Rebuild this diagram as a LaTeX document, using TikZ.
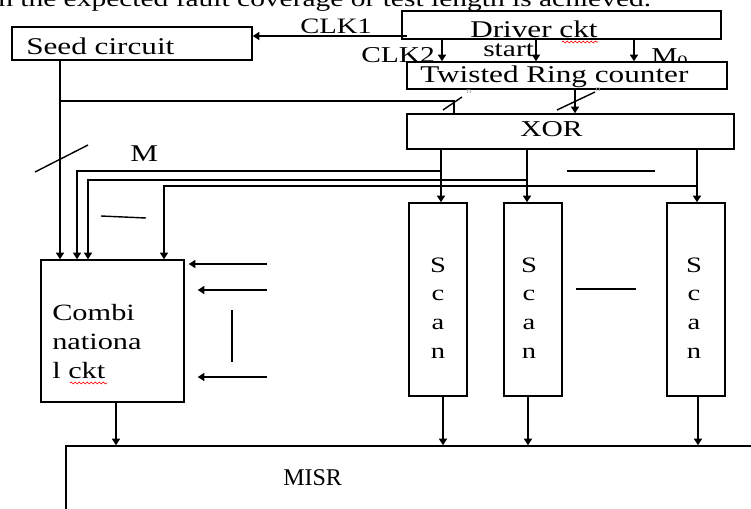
\documentclass[tikz,border=0pt]{standalone}
\usepackage{fontspec}
\setmainfont{Liberation Serif}[FakeStretch=1.3]
\newfontfamily\misrfont{Liberation Serif}
\usetikzlibrary{arrows.meta,fit,decorations.pathmorphing}

\begin{document}
\begin{tikzpicture}[x=0.75pt,y=-0.75pt,font=\fontsize{18}{21}\selectfont,
  blk/.style={draw=black,fill=white,line width=1.1pt,inner sep=0pt},
  sig/.style={line width=1.5pt,-{Triangle[length=5pt,width=6pt]}},
  bus/.style={line width=1.05pt},
  lbl/.style={anchor=base west,inner sep=0pt},
  spell/.style={draw=red,line width=0.5pt,decorate,
                decoration={snake,amplitude=0.7pt,segment length=3pt}}]
  \definecolor{tinygray}{HTML}{A8A8A8}
  \path[use as bounding box] (0,0) rectangle (751,508);
  \clip (0,0) rectangle (751,508);

  % running text of the page, cut by the top edge
  \node[lbl,font=\fontsize{17}{20}\selectfont] (pagetext) at (-2,6)
        {n the expected fault coverage or test length is achieved.};

  % labels that the counter box partly hides
  \node[lbl,font=\fontsize{17}{20}\selectfont] (clktwo) at (361,62) {CLK2};
  \node[lbl,font=\fontsize{17}{20}\selectfont] (startlbl) at (483,56) {start};
  \node[lbl,font=\fontsize{17}{20}\selectfont] (mzero) at (651,63) {M\textsubscript{0}};

  % blocks
  \node[blk,fit={(402,11)(721,39)}] (driver) {};
  \node[blk,fit={(12,27)(252,60)}] (seed) {};
  \node[blk,fit={(407,62)(727,89)}] (trc) {};
  \node[blk,fit={(407,114)(734,149)}] (xor) {};
  \node[blk,fit={(41,260)(184,402)}] (comb) {};
  \node[blk,fit={(66,446)(790,540)}] (misr) {};
  \foreach \sx/\nm in {409/scana,504/scanb,667/scanc}{
    \node[blk,fit={(\sx,203)(\sx+58,396)}] (\nm) {};
  }

  \node[lbl] (driverlbl) at (470,37) {Driver ckt};
  \node[lbl] (seedlbl) at (26,54) {Seed circuit};
  \node[lbl] (trclbl) at (420,82) {Twisted Ring counter};
  \node[lbl,font=\fontsize{17}{20}\selectfont] (xorlbl) at (520,136) {XOR};
  \node[lbl,font=\fontsize{16.5}{20}\selectfont] (clkone) at (300,33) {CLK1};
  \node[lbl] (mlbl) at (130,161) {M};
  \node[lbl,font=\misrfont\fontsize{18}{21}\selectfont] (misrlbl) at (283,485) {MISR};
  \foreach \ln/\yy/\txt in {a/320/Combi,b/349/nationa,c/378/l ckt}{
    \node[lbl,font=\fontsize{17.5}{20}\selectfont] (comb\ln) at (52,\yy) {\txt};
  }
  \foreach \nm/\cx in {scana/438,scanb/529,scanc/694}{
    \foreach \ch/\yy in {S/272,c/300,a/329,n/358}{
      \node[anchor=base,inner sep=0pt,font=\fontsize{16.5}{20}\selectfont]
            (\nm-\ch) at (\cx,\yy) {\ch};
    }
  }
  \draw[spell] (562,42) -- (598,42);
  \draw[spell] (70,383) -- (107,383);

  % clocks and control from the driver
  \coordinate (clkport) at (407,36);
  \draw[sig] (clkport) -- (clkport -| seed.east);
  \foreach \ax in {442,536,634}{
    \draw[sig] (\ax,0 |- driver.south) -- (\ax,0 |- trc.north);
  }
  \draw[sig] (575,0 |- trc.south) -- (575,0 |- xor.north);
  \draw[bus] (557,110) -- (595,92);
  \node[inner sep=0pt,text=tinygray,font=\fontsize{6}{7}\selectfont] (widthb) at (598,90) {n};

  % seed output to the circuit and to the XOR
  \draw[sig] (60,0 |- seed.south) -- (60,0 |- comb.north);
  \coordinate (seedtap) at (60,101);
  \draw[bus] (seedtap) -| (454,0 |- xor.north);
  \draw[bus] (443,110) -- (462,97);
  \node[inner sep=0pt,text=tinygray,font=\fontsize{6}{7}\selectfont] (widtha) at (469,92) {n};
  \draw[bus] (35,172) -- (88,145);

  % XOR outputs to the scan chains and back to the circuit
  \foreach \ox/\nm/\hy/\cx in {441/scana/171/77,527/scanb/180/88,697/scanc/186/164}{
    \draw[sig] (\ox,0 |- xor.south) -- (\ox,0 |- \nm.north);
    \coordinate (tap\nm) at (\ox,\hy);
    \draw[sig,line width=1.2pt] (tap\nm) -| (\cx,0 |- comb.north);
  }
  \draw[bus] (567,171) -- (655,171);
  \draw[bus] (576,289) -- (636,289);
  \draw[bus] (101,216) -- (146,218);

  % primary inputs
  \foreach \iy/\gap in {264/4,290/13,377/13}{
    \coordinate (pin\iy) at (267,\iy);
    \draw[sig,line width=1.3pt] (pin\iy) -- ([xshift=\gap*0.75pt]comb.east |- pin\iy);
  }
  \draw[bus] (232,310) -- (232,362);

  % responses into the MISR
  \draw[sig] (116,0 |- comb.south) -- (116,0 |- misr.north);
  \foreach \nm/\ox in {scana/443,scanb/528,scanc/698}{
    \draw[sig] (\ox,0 |- \nm.south) -- (\ox,0 |- misr.north);
  }
\end{tikzpicture}
\end{document}
